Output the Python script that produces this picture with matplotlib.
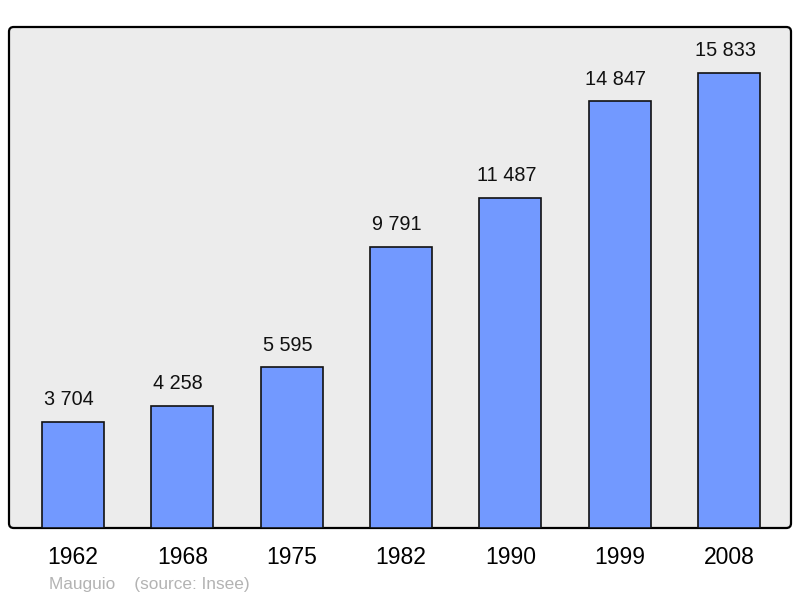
import matplotlib.pyplot as plt
from matplotlib.patches import FancyBboxPatch

plt.rcParams["font.family"] = ["Liberation Sans", "DejaVu Sans"]

years = ["1962", "1968", "1975", "1982", "1990", "1999", "2008"]
population = [3704, 4258, 5595, 9791, 11487, 14847, 15833]
labels = ["3 704", "4 258", "5 595", "9 791", "11 487", "14 847", "15 833"]

fig = plt.figure(figsize=(8, 5.98), dpi=100)
ax = fig.add_axes([9 / 800, 70 / 598, 782 / 800, 501 / 598])

ax.patch.set_visible(False)
for s in ax.spines.values():
    s.set_visible(False)
frame = FancyBboxPatch((0, 0), 1, 1, boxstyle="round,pad=0,rounding_size=0.006",
                       mutation_aspect=782 / 501, transform=ax.transAxes,
                       facecolor="#ececec", edgecolor="black", linewidth=1.6,
                       zorder=0, clip_on=False)
ax.add_patch(frame)

x = list(range(len(years)))
bars = ax.bar(x, population, width=0.567, color="#7299ff", edgecolor="#111111",
              linewidth=1.2, zorder=2)
for xi, v, lab in zip(x, population, labels):
    ax.annotate(lab, (xi, v), xytext=(-3, 9), textcoords="offset points",
                ha="center", va="bottom", fontsize=14.3, color="#111111")

ax.set_xlim(-0.585, 6.565)
ax.set_ylim(0, 17432)
ax.set_yticks([])
ax.set_xticks(x)
ax.set_xticklabels(years, fontsize=16.5)
ax.tick_params(axis="x", length=0, pad=13)

fig.text(49 / 800, 1 - 584 / 598, "Mauguio    (source: Insee)", fontsize=12.4,
         color="#b3b3b3", va="center", ha="left")

fig.savefig("out.png", dpi=100)
